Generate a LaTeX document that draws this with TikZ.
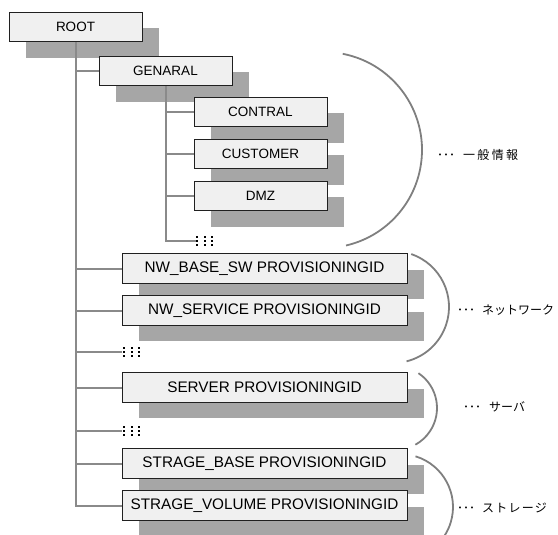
\documentclass[tikz,border=0pt]{standalone}
\usepackage{fontspec}
\setmainfont{Liberation Sans}
\newfontfamily\jpfont{Noto Sans CJK JP}
\usetikzlibrary{shadows}
\definecolor{boxfill}{HTML}{F0F0F0}
\definecolor{boxline}{HTML}{202020}
\definecolor{shadowgray}{HTML}{A6A6A6}
\definecolor{conngray}{HTML}{8A8A8A}
\definecolor{arcgray}{HTML}{7F7F7F}
\begin{document}
\begin{tikzpicture}[x=1pt,y=-1pt,
  box/.style={draw=boxline, fill=boxfill, line width=0.9pt, minimum height=29.5pt,
    inner sep=0pt,
    drop shadow={shadow xshift=16.5pt, shadow yshift=-16pt, fill=shadowgray, opacity=1}},
  sbox/.style={box, minimum width=133pt, font=\fontsize{13.5}{14}\selectfont},
  wbox/.style={box, minimum width=285pt, font=\fontsize{15.3}{16}\selectfont},
  conn/.style={draw=conngray, line width=2pt},
  bracket/.style={draw=arcgray, line width=1.8pt},
  dotgrid/.style={minimum width=18pt, minimum height=12pt, inner sep=0pt,
    path picture={\foreach \i in {-7.5,0,7.5}{\foreach \j in {-4.3,0,4.3}{%
      \fill[black] ([shift={(\i,\j)}]path picture bounding box.center) +(-1,-1) rectangle +(1,1);}}}},
  lbl/.style={anchor=west, inner sep=0pt, font=\jpfont\fontsize{12}{12}\selectfont}
]
\useasboundingbox (0,0) rectangle (558,535);
\begin{scope}
\clip (0,0) rectangle (558,535);
% boxes
\node[sbox] (root) at (75.5,27) {ROOT};
\node[sbox] (gen) at (165.5,71) {GENARAL};
\node[sbox] (contral) at (260.5,112) {CONTRAL};
\node[sbox] (cust) at (260.5,154) {CUSTOMER};
\node[sbox] (dmz) at (260.5,196) {DMZ};
\node[dotgrid] (d1) at (204.8,241) {};
\node[wbox] (nwb) at (264.5,268.5) {NW\_BASE\_SW PROVISIONINGID};
\node[wbox] (nws) at (264.5,310.5) {NW\_SERVICE PROVISIONINGID};
\node[dotgrid] (d2) at (131.5,352) {};
\node[wbox] (srv) at (264.5,387.5) {SERVER PROVISIONINGID};
\node[dotgrid] (d3) at (131.5,431) {};
\node[wbox] (stb) at (264.5,463.5) {STRAGE\_BASE PROVISIONINGID};
\node[wbox] (stv) at (264.5,505.5) {STRAGE\_VOLUME PROVISIONINGID};
% connectors
\draw[conn] (root.south) |- (stv.west);
\draw[conn] (root.south |- gen.west) -- (gen.west);
\draw[conn] (root.south |- nwb.west) -- (nwb.west);
\draw[conn] (root.south |- nws.west) -- (nws.west);
\draw[conn] (root.south |- d2.west) -- (d2.west);
\draw[conn] (root.south |- srv.west) -- (srv.west);
\draw[conn] (root.south |- d3.west) -- (d3.west);
\draw[conn] (root.south |- stb.west) -- (stb.west);
\draw[conn] (gen.south) |- (d1.west);
\draw[conn] (gen.south |- contral.west) -- (contral.west);
\draw[conn] (gen.south |- cust.west) -- (cust.west);
\draw[conn] (gen.south |- dmz.west) -- (dmz.west);
% brackets
\draw[bracket] ([shift={(-79:98)}]324,150) arc[start angle=-79, end angle=77, radius=98];
\draw[bracket] ([shift={(-71:56)}]393,307) arc[start angle=-71, end angle=76, radius=56];
\draw[bracket] ([shift={(-56:42)}]395,408) arc[start angle=-56, end angle=61, radius=42];
\draw[bracket] ([shift={(-73:53)}]400,507) arc[start angle=-73, end angle=80, radius=53];
\end{scope}
% labels
\node[lbl] (l1) at (437,155) {･･･\hspace{8pt}{\addfontfeature{LetterSpace=19}一般情報}};
\node[lbl] (l2) at (457,310) {･･･\hspace{7pt}ネットワーク};
\node[lbl] (l3) at (463,407) {･･･\hspace{8pt}サーバ};
\node[lbl] (l4) at (457,508) {･･･\hspace{7pt}{\addfontfeature{LetterSpace=10}ストレージ}};
\end{tikzpicture}
\end{document}
